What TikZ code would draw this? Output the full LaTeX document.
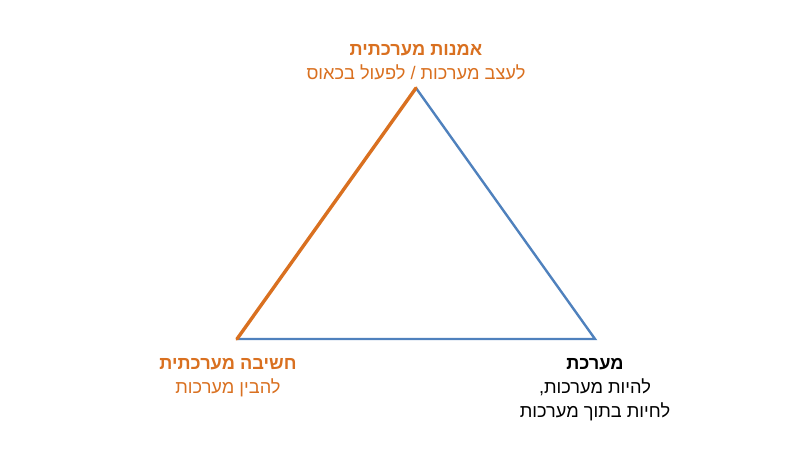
\documentclass[tikz,border=0pt]{standalone}
\usepackage{fontspec}
\setmainfont{Liberation Sans}
\newfontfamily\hebfont[Script=Hebrew]{Liberation Sans}
\usepackage{tikz}
\usetikzlibrary{positioning}
\TeXXeTstate=1
\definecolor{ppOrange}{RGB}{217,112,32}
\definecolor{ppBlue}{RGB}{79,129,189}

\begin{document}
\begin{tikzpicture}[
    x=1pt, y=-1pt,
    orangeline/.style={draw=ppOrange, line width=3.4pt, line cap=round},
    blueline/.style={draw=ppBlue, line width=2.4pt, line join=miter},
    every node/.style={ font=\hebfont\fontsize{18.2}{24}\selectfont,
                        align=center,
                        inner sep=0pt},
    label/.style={text=ppOrange}]

    \useasboundingbox (0,0) rectangle (800,450);

    \coordinate (top) at (416,88);
    \coordinate (left) at (237,339);
    \coordinate (right) at (595,339);

    \draw[blueline] (left) -- (right) -- (top);
    \draw[orangeline] (left) -- (top);

    \node[label, above=8pt of top] (art) {\beginR\bfseries אמנות מערכתית\endR\\\beginR לעצב מערכות / לפעול בכאוס\endR};
    \node[label, below=19pt of left, xshift=-9pt] (thinking) {\beginR\bfseries חשיבה מערכתית\endR\\\beginR להבין מערכות\endR};
    \node[below=19pt of right] (system) {\beginR\bfseries מערכת\endR\\\beginR להיות מערכות,\endR\\\beginR לחיות בתוך מערכות\endR};

\end{tikzpicture}
\end{document}
